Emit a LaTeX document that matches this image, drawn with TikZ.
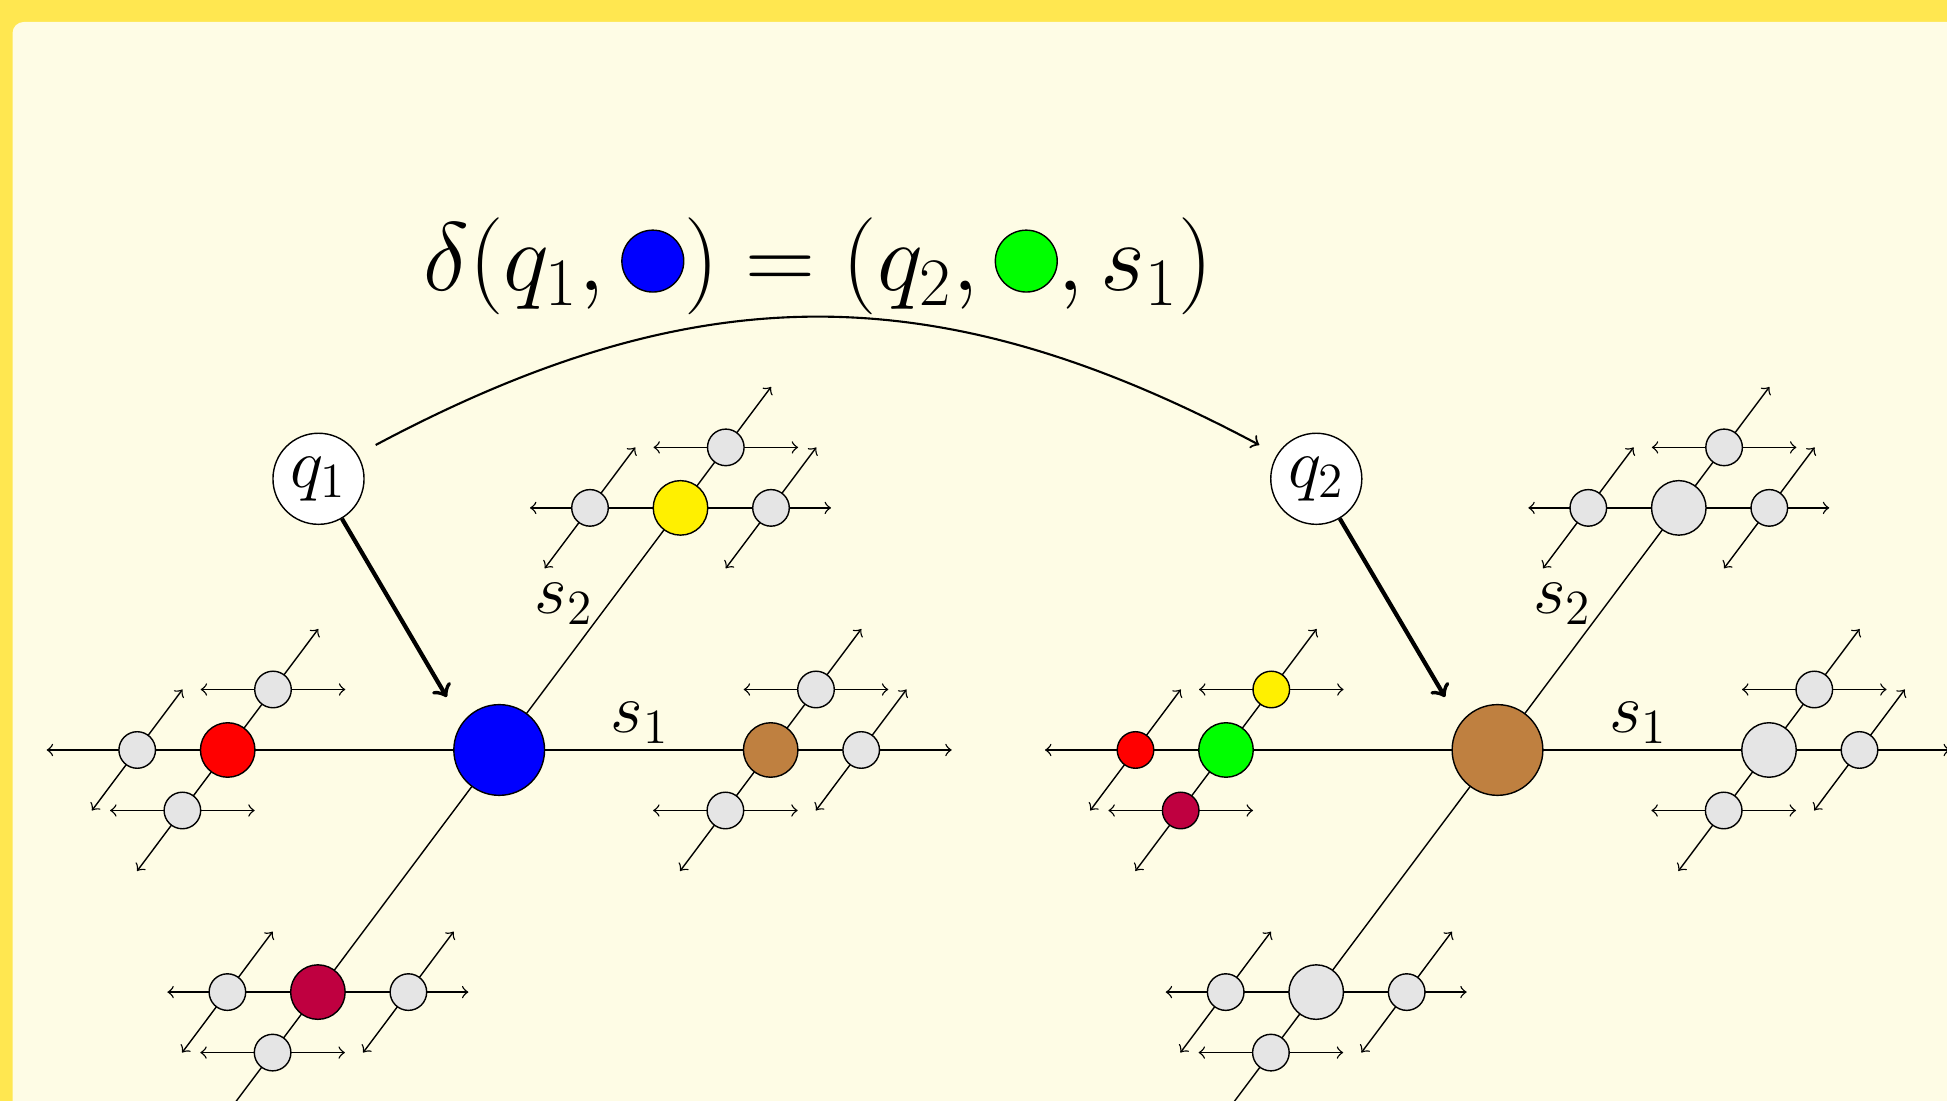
\RequirePackage{fix-cm}
\documentclass[tikz,border=0pt]{standalone}
\usetikzlibrary{calc}
\definecolor{bgyellow}{RGB}{255,231,80}
\definecolor{bgcream}{RGB}{254,252,229}
\definecolor{cellgray}{RGB}{229,229,229}
\definecolor{tapeyellow}{RGB}{255,240,0}
\definecolor{tapebrown}{rgb}{0.75,0.5,0.25}
\definecolor{tapepurple}{rgb}{0.75,0,0.25}
\definecolor{tapegreen}{RGB}{0,255,0}
\definecolor{tapered}{RGB}{255,0,0}
\definecolor{tapeblue}{RGB}{0,0,255}
\tikzset{
  axisline/.style={line width=0.4pt,<->},
  cellbase/.style={circle,draw,line width=0.4pt,inner sep=0pt},
  cellbig/.style={cellbase,minimum size=25.8pt},
  cellmid/.style={cellbase,minimum size=15.5pt},
  cellsmall/.style={cellbase,minimum size=10.4pt},
  statenode/.style={circle,draw,fill=white,line width=0.4pt,inner sep=0pt,minimum size=25.9pt,font=\fontsize{20}{24}\selectfont},
  headarrow/.style={line width=1.2pt,->},
  transarrow/.style={line width=0.6pt,->},
  lbl/.style={font=\fontsize{20}{24}\selectfont,inner sep=0pt,anchor=base west},
}
\newcommand\eqdot[1]{\tikz[baseline=0pt]\draw[fill=#1,line width=0.4pt](0pt,8.5pt) circle[radius=8.8pt];}
\newcommand\tapegraph[2]{%
\begin{scope}[shift={(#2,750)}]
  \coordinate (#1pO) at (0,0);
  \coordinate (#1pL) at (-271.5,0);
  \coordinate (#1pR) at (271.5,0);
  \coordinate (#1pU) at (181.3,-242.1);
  \coordinate (#1pD) at (-181.3,242.1);
  \coordinate (#1pLL) at (-362,0);
  \coordinate (#1pLU) at (-226.2,-60.5);
  \coordinate (#1pLD) at (-316.8,60.5);
  \coordinate (#1pRR) at (362,0);
  \coordinate (#1pRU) at (316.8,-60.5);
  \coordinate (#1pRD) at (226.2,60.5);
  \coordinate (#1pUL) at (90.8,-242.1);
  \coordinate (#1pUR) at (271.8,-242.1);
  \coordinate (#1pUU) at (226.6,-302.6);
  \coordinate (#1pDL) at (-271.8,242.1);
  \coordinate (#1pDR) at (-90.8,242.1);
  \coordinate (#1pDD) at (-226.6,302.6);
  % main axes
  \draw[axisline] ($(#1pO)+(-452.5,0)$) -- ($(#1pO)+(452.5,0)$);
  \draw[axisline] ($(#1pO)+(-271.9,363.1)$) -- ($(#1pO)+(271.9,-363.1)$);
  % level-1 axes
  \draw[axisline] ($(#1pL)+(-90.6,121)$) -- ($(#1pL)+(90.6,-121)$);
  \draw[axisline] ($(#1pR)+(-90.6,121)$) -- ($(#1pR)+(90.6,-121)$);
  \draw[axisline] ($(#1pU)+(-150.5,0)$) -- ($(#1pU)+(150.5,0)$);
  \draw[axisline] ($(#1pD)+(-150.5,0)$) -- ($(#1pD)+(150.5,0)$);
  % level-2 arms
  \foreach \n in {LL,RR,UL,UR,DL,DR}{
    \draw[axisline] ($(#1p\n)+(-45.3,60.5)$) -- ($(#1p\n)+(45.3,-60.5)$);}
  \foreach \n in {LU,LD,RU,RD,UU,DD}{
    \draw[axisline] ($(#1p\n)+(-72.3,0)$) -- ($(#1p\n)+(72.3,0)$);}
  % cells
  \node[cellbig,fill=cO] (#1O) at (#1pO) {};
  \node[cellmid,fill=cL] (#1L) at (#1pL) {};
  \node[cellmid,fill=cR] (#1R) at (#1pR) {};
  \node[cellmid,fill=cU] (#1U) at (#1pU) {};
  \node[cellmid,fill=cD] (#1D) at (#1pD) {};
  \node[cellsmall,fill=cLL] (#1LL) at (#1pLL) {};
  \node[cellsmall,fill=cLU] (#1LU) at (#1pLU) {};
  \node[cellsmall,fill=cLD] (#1LD) at (#1pLD) {};
  \foreach \n in {RR,RU,RD,UL,UR,UU,DL,DR,DD}{
    \node[cellsmall,fill=cellgray] (#1\n) at (#1p\n) {};}
  \node[lbl] (#1s1) at (110.8,-17) {$s_1$};
  \node[lbl] (#1s2) at (35,-136) {$s_2$};
\end{scope}}
\begin{document}
\begin{tikzpicture}[x=0.01cm,y=-0.01cm]
\useasboundingbox (0,0) rectangle (1947,1101);
\fill[bgyellow] (0,0) rectangle (1947,1101);
\fill[bgcream,rounded corners=3.2pt] (12.5,22) rectangle (2100,1250);
\colorlet{cO}{tapeblue}\colorlet{cL}{tapered}\colorlet{cR}{tapebrown}
\colorlet{cU}{tapeyellow}\colorlet{cD}{tapepurple}
\colorlet{cLL}{cellgray}\colorlet{cLU}{cellgray}\colorlet{cLD}{cellgray}
\tapegraph{a}{499.2}
\colorlet{cO}{tapebrown}\colorlet{cL}{tapegreen}\colorlet{cR}{cellgray}
\colorlet{cU}{cellgray}\colorlet{cD}{cellgray}
\colorlet{cLL}{tapered}\colorlet{cLU}{tapeyellow}\colorlet{cLD}{tapepurple}
\tapegraph{b}{1497.5}
\node[statenode] (q1) at (318.5,478.8) {$q_1$};
\node[statenode] (q2) at (1316.3,478.8) {$q_2$};
\coordinate (h1) at (446.7,697);
\coordinate (h2) at (1445,697);
\draw[headarrow] (q1) -- (h1);
\draw[headarrow] (q2) -- (h2);
\coordinate (c1) at (375.7,445);
\coordinate (c2) at (1259.3,445);
\draw[transarrow] (c1) .. controls (697,274) and (938,274) .. (c2);
\node[font=\fontsize{27.6}{33}\selectfont,inner sep=0pt,anchor=base] (eq) at (818,291)
  {$\delta(q_1,\eqdot{tapeblue})=(q_2,\eqdot{tapegreen},s_1)$};
\end{tikzpicture}
\end{document}
